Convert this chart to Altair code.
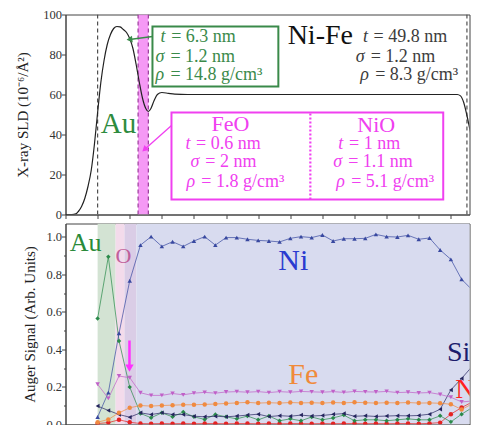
import altair as alt
import pandas as pd

# ---------------- data ----------------
# Top panel: X-ray SLD depth profile (depth in nm, SLD in 1e-6/Å^2)
sld_depth = [-5, -4, -3.4, -3, -2.5, -2, -1.5, -1, -0.5, 0, 0.5, 1, 1.5, 2, 2.5, 3, 3.5, 4, 4.5, 5,
             5.5, 6, 6.5, 7, 7.5, 7.9, 8.3, 8.8, 9.3, 10, 11, 12, 14, 20, 30, 40, 50, 55, 56, 56.5,
             57, 57.5, 58, 58.5]
sld_value = [0, 0, 0.3, 1.5, 4, 8, 14, 22, 35, 51, 66, 77, 85, 90, 93, 94, 93.8, 92.5, 91, 88,
             83, 75, 66, 58, 53, 51.5, 53, 57, 60, 61, 60.6, 60.2, 60, 60, 60, 60, 60, 60, 60, 59.3,
             56, 49.5, 42, 35]

# layer interfaces (nm)
outer_edges = [0, 57.5]
oxide_edges = [6.3, 7.9]

# Bottom panel: Auger depth profile
auger_depth = [0, 1.67, 3.33, 5, 6.67, 8.33, 10, 11.67, 13.33, 15, 16.67, 18.33, 20, 21.67, 23.33,
               25, 26.67, 28.33, 30, 31.67, 33.33, 35, 36.67, 38.33, 40, 41.67, 43.33, 45, 46.67,
               48.33, 50, 51.67, 53.33, 55, 56.67, 58.33]
ni = [0.04, 0.17, 0.486, 0.765, 0.955, 1.0, 0.948, 0.973, 0.948, 0.977, 1.0, 0.955, 0.995, 0.995,
      0.986, 0.98, 0.977, 0.972, 0.991, 1.0, 0.995, 1.009, 0.977, 0.989, 0.989, 0.991, 1.012, 1.0,
      0.998, 1.007, 0.986, 0.993, 0.929, 0.879, 0.773, 0.716]
o = [0.214, 0.139, 0.258, 0.249, 0.169, 0.155, 0.155, 0.165, 0.158, 0.167, 0.171, 0.167, 0.173,
     0.175, 0.172, 0.175, 0.17, 0.175, 0.172, 0.176, 0.174, 0.172, 0.175, 0.171, 0.176, 0.174,
     0.173, 0.176, 0.17, 0.172, 0.168, 0.17, 0.16, 0.145, 0.12, 0.125]
fe = [0.012, 0.027, 0.062, 0.089, 0.101, 0.098, 0.101, 0.103, 0.105, 0.105, 0.107, 0.109, 0.112,
      0.115, 0.118, 0.114, 0.116, 0.114, 0.117, 0.115, 0.116, 0.114, 0.117, 0.115, 0.118, 0.116,
      0.114, 0.116, 0.115, 0.117, 0.114, 0.115, 0.113, 0.108, 0.08, 0.11]
si = [0.098, 0.075, 0.053, 0.039, 0.062, 0.053, 0.062, 0.053, 0.053, 0.044, 0.041, 0.044, 0.041,
      0.045, 0.05, 0.055, 0.042, 0.047, 0.044, 0.05, 0.045, 0.048, 0.054, 0.058, 0.044, 0.046,
      0.043, 0.045, 0.047, 0.046, 0.048, 0.055, 0.081, 0.184, 0.245, 0.31]
au = [0.564, 0.893, 0.445, 0.199, 0.059, 0.036, 0.062, 0.041, 0.066, 0.041, 0.027, 0.053, 0.041,
      0.03, 0.045, 0.025, 0.045, 0.02, 0.03, 0.02, 0.04, 0.025, 0.035, 0.05, 0.02, 0.025, 0.025,
      0.02, 0.025, 0.03, 0.025, 0.025, 0.046, 0.014, 0.055, 0.09]
n = [0.005, 0.01, 0.025, 0.012, 0.005, 0.004, 0.005, 0.004, 0.005, 0.004, 0.005, 0.005, 0.004,
     0.005, 0.005, 0.004, 0.005, 0.004, 0.005, 0.005, 0.004, 0.005, 0.004, 0.005, 0.005, 0.004,
     0.005, 0.004, 0.005, 0.005, 0.004, 0.006, 0.01, 0.055, 0.09, 0.12]

elements = ["N", "Au", "Si", "Fe", "O", "Ni"]
series = {"N": n, "Au": au, "Si": si, "Fe": fe, "O": o, "Ni": ni}

# shaded zones of the Auger panel (nm)
zone_start = [0, 2.8, 4.18, 6.05]
zone_end = [2.8, 4.18, 6.05, 58.5]

# ---------------- styles ----------------
W = 404
H_TOP = 200
H_BOT = 201
X_DOM = [-5, 57.9]
PX_PER_NM = W / (X_DOM[1] - X_DOM[0])
FONT = "Liberation Serif"
GREEN = "#3a8a4a"
MAGENTA = "#f040f0"
DARK = "#3c3c3c"
zone_colors = ["#d3e3d3", "#f3dbeb", "#dacde6", "#d8dbef"]
el_colors = {"N": "#e52222", "Au": "#2a8a4a", "Si": "#25255e", "Fe": "#f08a40",
             "O": "#c060c8", "Ni": "#3848a0"}
el_shapes = {"N": "circle", "Au": "diamond", "Si": "triangle-left", "Fe": "circle",
             "O": "triangle-down", "Ni": "triangle-up"}

xs = alt.Scale(domain=X_DOM, nice=False, zero=False)
x_ticks = list(range(-5, 60, 5))
x_axis = alt.Axis(values=x_ticks, labels=False, title=None, tickSize=4, grid=False)

ys_top = alt.Scale(domain=[0, 100], nice=False, zero=False)
y_axis_top = alt.Axis(values=[0, 20, 40, 60, 80, 100], title="X-ray SLD (10⁻⁶/Å²)",
                      titlePadding=12, tickSize=4, grid=False)
ys_bot = alt.Scale(domain=[0, 1.07], nice=False, zero=False)
y_axis_bot = alt.Axis(values=[round(i * 0.1, 1) for i in range(11)],
                      labelExpr="round(datum.value*10) % 2 == 0 ? format(datum.value, '.1f') : ''",
                      tickSize={"condition": {"test": "round(datum.value*10) % 2 == 0", "value": 4},
                                "value": 2},
                      title="Auger Signal (Arb. Units)", titlePadding=8, grid=False)


def X(f):
    return alt.X(f, type="quantitative", scale=xs, axis=x_axis)


def YT(f):
    return alt.Y(f, type="quantitative", scale=ys_top, axis=y_axis_top)


def YB(f):
    return alt.Y(f, type="quantitative", scale=ys_bot, axis=y_axis_bot)


# ---------------- top panel ----------------
sld_df = pd.DataFrame({"depth": sld_depth, "sld": sld_value})

band = alt.Chart(pd.DataFrame({"a": [oxide_edges[0]], "b": [oxide_edges[1]], "lo": [0], "hi": [100]})
                 ).mark_rect(color="#f48ef4", opacity=0.9, clip=True).encode(
    x=X("a"), x2="b", y=YT("lo"), y2="hi")
outer_rules = alt.Chart(pd.DataFrame({"d": outer_edges})).mark_rule(
    color="#505050", strokeDash=[4, 3], strokeWidth=1.2, clip=True).encode(x=X("d"))
oxide_rules = alt.Chart(pd.DataFrame({"d": oxide_edges})).mark_rule(
    color="#9a3a9a", strokeDash=[4, 3], strokeWidth=1.2, clip=True).encode(x=X("d"))
curve = alt.Chart(sld_df).mark_line(color="#222", strokeWidth=1.2, interpolate="monotone",
                                    clip=True).encode(x=X("depth"), y=YT("sld"))

# annotation geometry (data coordinates)
boxes_df = pd.DataFrame({"x": [8.54, 11.5], "x2": [28.14, 53.81], "y": [64, 7.5], "y2": [94, 51],
                         "c": ["g", "m"]})
boxes = alt.Chart(boxes_df).mark_rect(fill=None, strokeWidth=2, clip=True).encode(
    x=X("x"), x2="x2", y=YT("y"), y2="y2",
    stroke=alt.Stroke("c:N", scale=alt.Scale(domain=["g", "m"], range=[GREEN, MAGENTA]), legend=None))
divider = alt.Chart(pd.DataFrame({"x": [33.12], "y": [7.5], "y2": [51]})).mark_rule(
    color=MAGENTA, strokeWidth=2.2, strokeDash=[2, 2], clip=True).encode(x=X("x"), y=YT("y"), y2="y2")

arrows_df = pd.DataFrame({"x": [8.54, 11.5], "y": [89, 44.5], "x2": [4.96, 7.3], "y2": [87.5, 32.5],
                          "c": ["g", "m"], "ang": [263, 228]})
arrow_cs = alt.Scale(domain=["g", "m"], range=[GREEN, MAGENTA])
arrow_lines = alt.Chart(arrows_df).mark_rule(strokeWidth=1.3, clip=True).encode(
    x=X("x"), y=YT("y"), x2="x2", y2="y2", color=alt.Color("c:N", scale=arrow_cs, legend=None))
arrow_heads = alt.Chart(arrows_df).mark_point(shape="triangle-up", filled=True, size=45, opacity=1,
                                              clip=True).encode(
    x=X("x2"), y=YT("y2"), color=alt.Color("c:N", scale=arrow_cs, legend=None),
    angle=alt.Angle("ang:Q", scale=None))

# parameter lines: variable (italic) + rest
var_w_px = {"t": 6.2, "σ": 10.4, "ρ": 10.4}
par_x = [9.78, 9.01, 9.01, 41.3, 40.2, 40.9, 13.67, 14.45, 13.83, 37.47, 36.69, 37.16]
par_y = [89, 79, 70, 89, 79, 70, 35.5, 26.5, 16.5, 35.5, 26.5, 16.5]
par_var = ["t", "σ", "ρ"] * 4
par_rest = ["= 6.3 nm", "= 1.2 nm", "= 14.8 g/cm³",
            "= 49.8 nm", "= 1.2 nm", "= 8.3 g/cm³",
            "= 0.6 nm", "= 2 nm", "= 1.8 g/cm³",
            "= 1 nm", "= 1.1 nm", "= 5.1 g/cm³"]
par_c = ["g"] * 3 + ["k"] * 3 + ["m"] * 6
par_df = pd.DataFrame({"x": par_x, "y": par_y, "v": par_var, "r": par_rest, "c": par_c})
par_df["xr"] = [xx + (var_w_px[v] + 4.5) / PX_PER_NM for xx, v in zip(par_x, par_var)]
par_cs = alt.Scale(domain=["g", "k", "m"], range=[GREEN, DARK, MAGENTA])
par_vars = alt.Chart(par_df).mark_text(font=FONT, fontSize=18, fontStyle="italic", align="left",
                                        baseline="middle", clip=True).encode(
    x=X("x"), y=YT("y"), text="v:N", color=alt.Color("c:N", scale=par_cs, legend=None))
par_rests = alt.Chart(par_df).mark_text(font=FONT, fontSize=18, align="left", baseline="middle",
                                         clip=True).encode(
    x=X("xr"), y=YT("y"), text="r:N", color=alt.Color("c:N", scale=par_cs, legend=None))

big_df = pd.DataFrame({"x": [3.25, 34.67, 20.67, 43.38], "y": [45.5, 89.5, 45.25, 44.75],
                       "t": ["Au", "Ni-Fe", "FeO", "NiO"], "c": ["g", "k", "m", "m"],
                       "s": [29, 28, 22, 22]})
big_cs = alt.Scale(domain=["g", "k", "m"], range=["#2e8b3e", "#111111", MAGENTA])
big_text = alt.Chart(big_df).mark_text(font=FONT, baseline="middle", align="center", clip=True).encode(
    x=X("x"), y=YT("y"), text="t:N", color=alt.Color("c:N", scale=big_cs, legend=None),
    size=alt.Size("s:Q", scale=None, legend=None))

top = alt.layer(band, outer_rules, oxide_rules, curve, boxes, divider, arrow_lines, arrow_heads,
                par_vars, par_rests, big_text).resolve_scale(color="independent").properties(
    width=W, height=H_TOP)

# ---------------- bottom panel ----------------
zones_df = pd.DataFrame({"a": zone_start, "b": zone_end, "lo": [0] * 4, "hi": [1.07] * 4,
                         "z": ["au", "o1", "o2", "nife"]})
zones = alt.Chart(zones_df).mark_rect(opacity=1, clip=True).encode(
    x=X("a"), x2="b", y=YB("lo"), y2="hi",
    fill=alt.Fill("z:N", scale=alt.Scale(domain=["au", "o1", "o2", "nife"], range=zone_colors), legend=None))

rows = []
for el in elements:
    for d, v in zip(auger_depth, series[el]):
        rows.append({"depth": d, "signal": v, "el": el})
auger_df = pd.DataFrame(rows)
el_cs = alt.Scale(domain=elements, range=[el_colors[e] for e in elements])
el_ss = alt.Scale(domain=elements, range=[el_shapes[e] for e in elements])
lines = alt.Chart(auger_df).mark_line(strokeWidth=1, opacity=0.7, clip=True).encode(
    x=X("depth"), y=YB("signal"), color=alt.Color("el:N", scale=el_cs, legend=None),
    order=alt.Order("depth:Q"))
pts = alt.Chart(auger_df).mark_point(filled=True, size=20, opacity=1, clip=True).encode(
    x=X("depth"), y=YB("signal"), color=alt.Color("el:N", scale=el_cs, legend=None),
    shape=alt.Shape("el:N", scale=el_ss, legend=None))

lab_cs = alt.Scale(domain=["Au", "O", "Ni", "Fe", "Si", "N"],
                   range=["#2a8a3a", "#c0609a", "#2b3bd0", "#f08a3a", "#1c1c6c", "#ff2020"])
lab_df = pd.DataFrame({"x": [-1.88, 4.03, 30.47, 32.03], "y": [0.968, 0.899, 0.87, 0.263],
                       "t": ["Au", "O", "Ni", "Fe"], "s": [26, 22, 30, 30]})
labels_c = alt.Chart(lab_df).mark_text(font=FONT, align="center", baseline="middle", clip=True).encode(
    x=X("x"), y=YB("y"), text="t:N", color=alt.Color("t:N", scale=lab_cs, legend=None),
    size=alt.Size("s:Q", scale=None, legend=None))
lab2_df = pd.DataFrame({"x": [54.4, 55.7], "y": [0.383, 0.186], "t": ["Si", "N"], "s": [28, 28]})
labels_l = alt.Chart(lab2_df).mark_text(font=FONT, align="left", baseline="middle", clip=True).encode(
    x=X("x"), y=YB("y"), text="t:N", color=alt.Color("t:N", scale=lab_cs, legend=None),
    size=alt.Size("s:Q", scale=None, legend=None))

arr_df = pd.DataFrame({"x": [4.96], "y": [0.447], "y2": [0.30]})
arr_line = alt.Chart(arr_df).mark_rule(color="#ff30ff", strokeWidth=2.5, clip=True).encode(
    x=X("x"), y=YB("y"), y2="y2")
arr_head = alt.Chart(arr_df).mark_point(shape="triangle-down", filled=True, size=70, color="#ff30ff",
                                        opacity=1, clip=True).encode(x=X("x"), y=YB("y2"))

bottom = alt.layer(zones, lines, pts, labels_c, labels_l, arr_line, arr_head).resolve_scale(
    color="independent").properties(width=W, height=H_BOT)

chart = alt.vconcat(top, bottom, spacing=1).properties(
    padding={"left": 6.5, "top": -0.5, "right": 0, "bottom": 0}
).configure_view(stroke="#444", strokeWidth=1).configure_axis(
    labelFont=FONT, labelFontSize=12.5, labelColor="#333", titleFont=FONT, titleFontSize=15,
    titleFontWeight="normal", titleColor="#222", domainColor="#444", tickColor="#444", labelPadding=0
)

chart.save("out.html", embed_options={"renderer": "svg", "actions": False})
